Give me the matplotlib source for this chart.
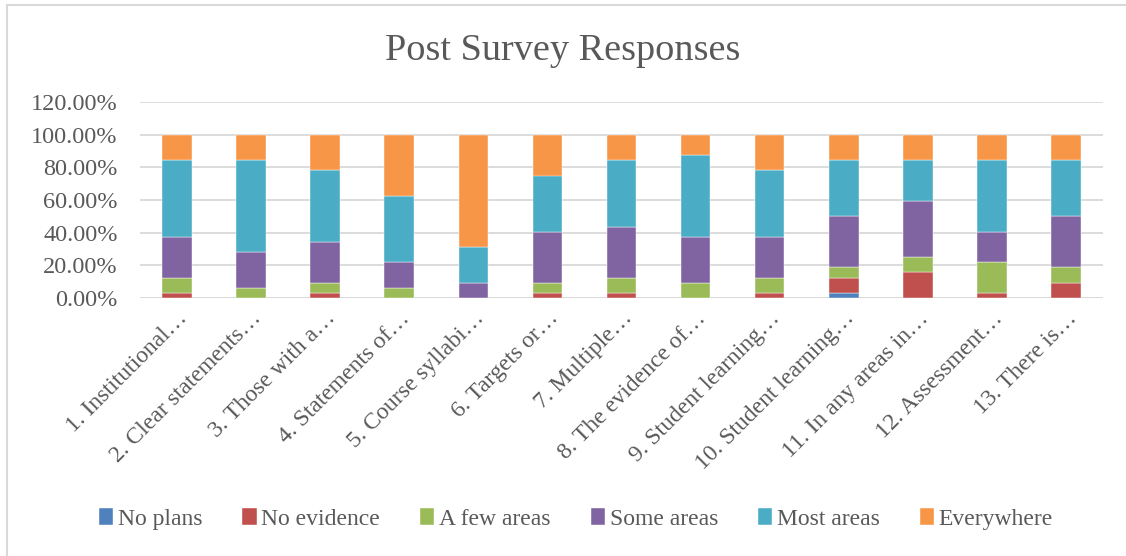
import matplotlib
matplotlib.use("Agg")
import matplotlib.pyplot as plt
import numpy as np
from matplotlib.patches import Rectangle

categories = ["1. Institutional…", "2. Clear statements…", "3. Those with a…",
              "4. Statements of…", "5. Course syllabi…", "6. Targets or…",
              "7. Multiple…", "8. The evidence of…", "9. Student learning…",
              "10. Student learning…", "11. In any areas in…", "12. Assessment…",
              "13. There is…"]
series_names = ["No plans", "No evidence", "A few areas", "Some areas", "Most areas", "Everywhere"]
no_plans    = [0, 0, 0, 0, 0, 0, 0, 0, 0, 3.125, 0, 0, 0]
no_evidence = [3.125, 0, 3.125, 0, 0, 3.125, 3.125, 0, 3.125, 9.375, 15.625, 3.125, 9.375]
a_few_areas = [9.375, 6.25, 6.25, 6.25, 0, 6.25, 9.375, 9.375, 9.375, 6.25, 9.375, 18.75, 9.375]
some_areas  = [25.0, 21.875, 25.0, 15.625, 9.375, 31.25, 31.25, 28.125, 25.0, 31.25, 34.375, 18.75, 31.25]
most_areas  = [46.875, 56.25, 43.75, 40.625, 21.875, 34.375, 40.625, 50.0, 40.625, 34.375, 25.0, 43.75, 34.375]
everywhere  = [15.625, 15.625, 21.875, 37.5, 68.75, 25.0, 15.625, 12.5, 21.875, 15.625, 15.625, 15.625, 15.625]
yticks = [0, 20, 40, 60, 80, 100, 120]

colors = ["#4F81BD", "#C0504D", "#9BBB59", "#8064A2", "#4BACC6", "#F79646"]
series = [no_plans, no_evidence, a_few_areas, some_areas, most_areas, everywhere]

plt.rcParams['font.family'] = ['Liberation Serif', 'DejaVu Serif']
txt = "#595959"

fig = plt.figure(figsize=(11.26, 5.56), dpi=100)
ax = fig.add_axes([140/1126, 1 - 298/556, (1103-140)/1126, (298-102)/556])

x = np.arange(len(categories))
bottom = np.zeros(len(categories))
for name, vals, c in zip(series_names, series, colors):
    v = np.array(vals, dtype=float)
    ax.bar(x, v, 0.40, bottom=bottom, color=c, label=name, edgecolor='white', linewidth=0.3, zorder=3)
    bottom += v

ax.set_xlim(-0.5, len(categories) - 0.5)
ax.set_ylim(0, 120)
ax.set_yticks(yticks)
ax.set_yticklabels([f"{t:.2f}%" for t in yticks], fontsize=17.5, color=txt)
ax.yaxis.grid(True, color="#D9D9D9", linewidth=1.3, zorder=0)
ax.set_axisbelow(True)
ax.tick_params(axis='y', length=0, pad=16)
ax.tick_params(axis='x', length=0, pad=7)
ax.set_xticks(x)
ax.set_xticklabels(categories, rotation=45, ha='right', rotation_mode='anchor', fontsize=17, color=txt)
for s in ax.spines.values():
    s.set_visible(False)
ax.axhline(0, color="#D9D9D9", linewidth=1.3, zorder=2)

fig.text(0.5, 1 - 60/556, "Post Survey Responses", ha='center', va='baseline', fontsize=27.5, color=txt)

handles, labels = ax.get_legend_handles_labels()
leg = fig.legend(handles, labels, loc='center', bbox_to_anchor=(0.5115, 1 - 519/556), ncol=6,
                 frameon=False, fontsize=17, handlelength=0.6, handleheight=0.7,
                 handletextpad=0.2, columnspacing=1.7)
for t in leg.get_texts():
    t.set_color(txt)

fig.patches.append(Rectangle((7/1126, -0.05), 1.2, 1.05 - 5/556, transform=fig.transFigure,
                             fill=False, edgecolor="#D9D9D9", linewidth=1.5))

fig.savefig("out.png", dpi=100)
